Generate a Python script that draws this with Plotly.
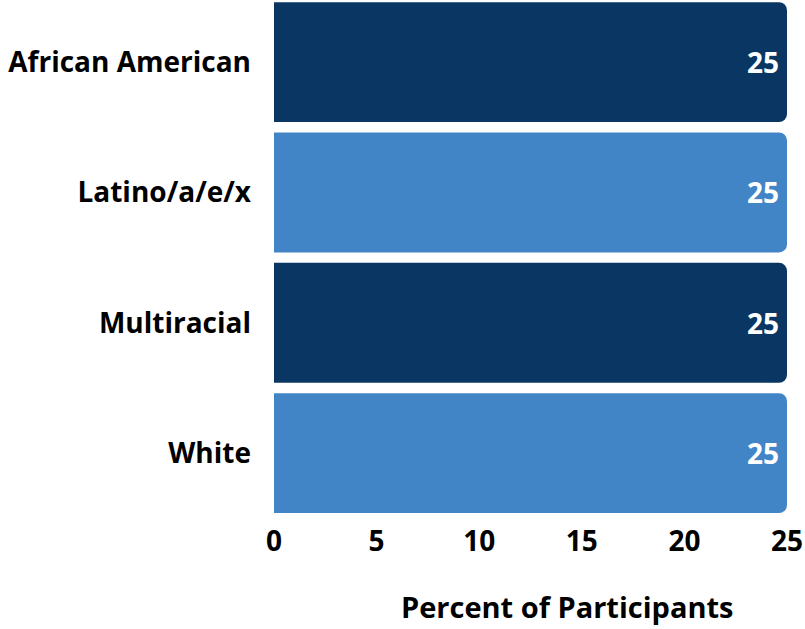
import plotly.graph_objects as go

categories = ["African American", "Latino/a/e/x", "Multiracial", "White"]
values = [25, 25, 25, 25]
bar_colors = ["#093662", "#4285C7", "#093662", "#4285C7"]
x_ticks = [0, 5, 10, 15, 20, 25]

FONT = "Open Sans"

fig = go.Figure(
    go.Bar(
        y=categories,
        x=values,
        orientation="h",
        marker=dict(color=bar_colors, line=dict(width=0)),
        text=[str(v) for v in values],
        textposition="inside",
        insidetextanchor="end",
        textfont=dict(family=FONT, size=28, color="white", weight="bold"),
        cliponaxis=False,
    )
)

fig.update_layout(
    width=805,
    height=629,
    margin=dict(l=274, r=18, t=0, b=111),
    plot_bgcolor="white",
    paper_bgcolor="white",
    bargap=0.08,
    barcornerradius=8,
    showlegend=False,
    font=dict(family=FONT, color="black"),
    uniformtext=dict(minsize=28, mode="show"),
    xaxis=dict(
        range=[0, 25],
        tickvals=x_ticks,
        ticktext=[str(t) for t in x_ticks],
        showgrid=False,
        zeroline=False,
        showline=False,
        ticks="",
        tickfont=dict(family=FONT, size=28, color="black", weight="bold"),
        ticklabelstandoff=4,
    ),
    yaxis=dict(
        categoryorder="array",
        categoryarray=categories,
        range=[3.498, -0.477],
        showgrid=False,
        zeroline=False,
        showline=False,
        ticks="",
        tickfont=dict(family=FONT, size=28, color="black", weight="bold"),
        ticklabelstandoff=22,
    ),
    annotations=[
        dict(
            text="Percent of Participants",
            xref="paper",
            yref="paper",
            x=0.571,
            y=0,
            yshift=-88,
            xanchor="center",
            yanchor="middle",
            showarrow=False,
            font=dict(family=FONT, size=29, color="black", weight="bold"),
        )
    ],
)

fig.write_html("out.html")
